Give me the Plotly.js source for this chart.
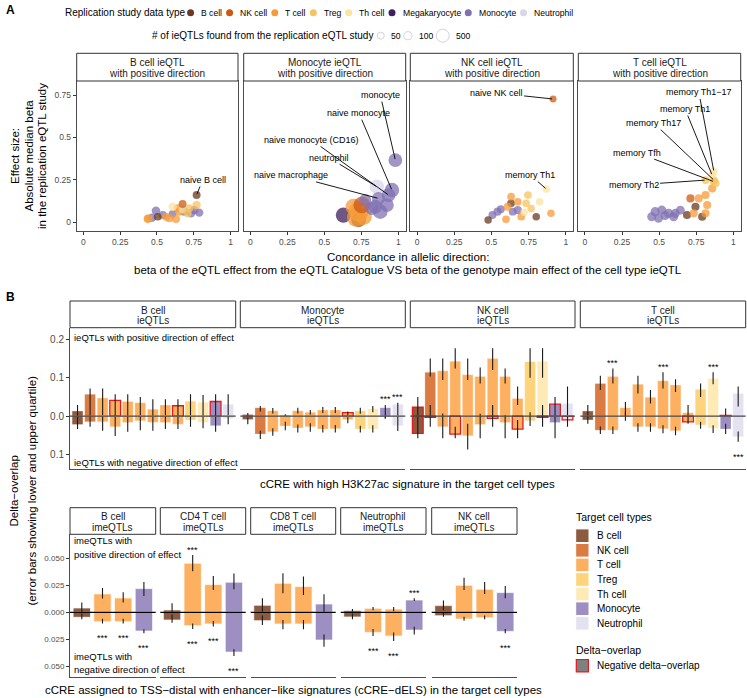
<!DOCTYPE html>
<html>
<head>
<meta charset="utf-8">
<script src="https://cdn.plot.ly/plotly-3.0.1.min.js"></script>
<style>body{margin:0;background:#fff} #chart{width:747px;height:698px}</style>
</head>
<body>
<div id="chart"></div>
<script>
/* ---------- colours ---------- */
const replTypes = ['B cell', 'NK cell', 'T cell', 'Treg', 'Th cell', 'Megakaryocyte', 'Monocyte', 'Neutrophil'];
const replColors = ['#6b3a20', '#cc5a14', '#f59b3a', '#f7c35c', '#fbe3a0', '#3f1f5c', '#8072b2', '#d8d6e8'];
const targetTypes = ['B cell', 'NK cell', 'T cell', 'Treg', 'Th cell', 'Monocyte', 'Neutrophil'];
const targetColors = ['#8c5a3f', '#d97b42', '#fdb060', '#fdd47b', '#feeab5', '#9d8fc2', '#e4e2f0'];
const sizeBreaks = [50, 100, 500];

/* ---------- A: replication of ieQTLs in eQTL Catalogue ---------- */
const aFacets = ['B cell ieQTL', 'Monocyte ieQTL', 'NK cell ieQTL', 'T cell ieQTL'];

const bcellQtlX = [0.493, 0.466, 0.539, 0.731, 0.787, 0.753, 0.685, 0.606, 0.437, 0.440, 0.584, 0.629, 0.561, 0.652, 0.640, 0.505, 0.606, 0.674, 0.719, 0.708, 0.769, 0.674, 0.769];
const bcellQtlY = [0.068, 0.027, 0.043, 0.053, 0.057, 0.072, 0.063, 0.050, 0.019, 0.024, 0.024, 0.019, 0.033, 0.063, 0.083, 0.033, 0.092, 0.077, 0.083, 0.053, 0.102, 0.108, 0.161];
const bcellQtlType = ['Monocyte', 'Monocyte', 'Monocyte', 'Monocyte', 'Monocyte', 'Monocyte', 'Monocyte', 'Monocyte', 'T cell', 'T cell', 'T cell', 'T cell', 'T cell', 'T cell', 'T cell', 'B cell', 'Th cell', 'Th cell', 'Treg', 'Treg', 'Treg', 'NK cell', 'B cell'];
const bcellQtlN = [120, 110, 100, 120, 110, 100, 100, 90, 100, 90, 100, 100, 90, 100, 100, 80, 110, 90, 90, 100, 110, 90, 90];
const bcellQtlLabels = {22: 'naive B cell'};

const monoQtlX = [0.629, 0.731, 0.719, 0.731, 0.697, 0.765, 0.753, 0.776, 0.821, 0.878, 0.844, 0.923, 0.855, 0.866, 0.934, 0.957, 0.980];
const monoQtlY = [0.043, 0.014, 0.029, 0.063, 0.092, 0.033, 0.102, 0.131, 0.082, 0.063, 0.092, 0.102, 0.210, 0.141, 0.161, 0.190, 0.367];
const monoQtlType = ['Megakaryocyte', 'B cell', 'T cell', 'T cell', 'T cell', 'T cell', 'NK cell', 'Monocyte', 'Monocyte', 'Monocyte', 'Monocyte', 'Monocyte', 'Neutrophil', 'Monocyte', 'Monocyte', 'Monocyte', 'Monocyte'];
const monoQtlN = [800, 700, 1500, 1600, 900, 1000, 1000, 400, 500, 700, 600, 600, 700, 500, 600, 700, 600];
const monoQtlLabels = {12: 'neutrophil', 13: 'naive macrophage', 14: 'naive monocyte (CD16)', 15: 'naive monocyte', 16: 'monocyte'};

const nkQtlX = [0.507, 0.541, 0.643, 0.677, 0.563, 0.478, 0.801, 0.632, 0.598, 0.632, 0.609, 0.677, 0.700, 0.900, 0.745, 0.733, 0.767, 0.824, 0.720, 0.869, 0.914];
const nkQtlY = [0.043, 0.063, 0.063, 0.072, 0.077, 0.014, 0.033, 0.112, 0.018, 0.151, 0.092, 0.121, 0.033, 0.053, 0.161, 0.112, 0.082, 0.121, 0.060, 0.196, 0.727];
const nkQtlType = ['Monocyte', 'Monocyte', 'Monocyte', 'Monocyte', 'Monocyte', 'B cell', 'B cell', 'B cell', 'T cell', 'T cell', 'T cell', 'T cell', 'T cell', 'T cell', 'Treg', 'Treg', 'Treg', 'Th cell', 'Th cell', 'Th cell', 'NK cell'];
const nkQtlN = [90, 100, 90, 100, 90, 70, 70, 80, 80, 80, 90, 80, 80, 70, 80, 80, 70, 80, 70, 70, 50];
const nkQtlLabels = {19: 'memory Th1', 20: 'naive NK cell'};

const tQtlX = [0.450, 0.473, 0.496, 0.518, 0.540, 0.564, 0.598, 0.609, 0.643, 0.688, 0.745, 0.790, 0.733, 0.813, 0.824, 0.767, 0.813, 0.858, 0.711, 0.881, 0.813, 0.869, 0.869, 0.857, 0.869];
const tQtlY = [0.033, 0.063, 0.024, 0.072, 0.040, 0.053, 0.033, 0.053, 0.072, 0.043, 0.092, 0.033, 0.053, 0.053, 0.102, 0.141, 0.161, 0.200, 0.141, 0.230, 0.249, 0.240, 0.249, 0.279, 0.300];
const tQtlType = ['Monocyte', 'Monocyte', 'Monocyte', 'Monocyte', 'Monocyte', 'Monocyte', 'Monocyte', 'Monocyte', 'Monocyte', 'B cell', 'B cell', 'B cell', 'T cell', 'T cell', 'T cell', 'T cell', 'T cell', 'T cell', 'NK cell', 'Treg', 'Treg', 'Treg', 'Treg', 'Th cell', 'Th cell'];
const tQtlN = [150, 160, 140, 160, 150, 160, 150, 150, 140, 100, 100, 100, 100, 100, 100, 100, 100, 100, 100, 90, 90, 90, 90, 80, 80];
const tQtlLabels = {20: 'memory Th2', 21: 'memory Tfh', 22: 'memory Th17', 23: 'memory Th1', 24: 'memory Th1\u221217'};

/* ---------- B (top): cCRE with high H3K27ac, ieQTLs ---------- */
// bars: [median, lower quartile, upper quartile]; negative direction given as magnitude
const h3kTargets = ['B cell', 'NK cell', 'T cell', 'T cell', 'T cell', 'T cell', 'T cell', 'T cell', 'T cell', 'Treg', 'Th cell', 'Monocyte', 'Neutrophil'];
const h3kFacets = ['B cell', 'Monocyte', 'NK cell', 'T cell'];

const h3kBcellPos = [[0.013, -0.003, 0.029], [0.057, 0.001, 0.072], [0.047, 0.002, 0.072], [0.041, -0.001, 0.057], [0.038, 0.001, 0.057], [0.035, 0.002, 0.050], [0.018, 0.001, 0.044], [0.029, 0.002, 0.044], [0.027, 0.001, 0.044], [0.039, 0.002, 0.057], [0.036, 0.001, 0.055], [0.038, -0.001, 0.057], [0.031, 0.002, 0.057]];
const h3kBcellNeg = [[0.022, 0.002, 0.034], [0.015, 0.001, 0.028], [0.015, 0.001, 0.038], [0.028, 0.002, 0.052], [0.017, 0.001, 0.041], [0.012, 0.001, 0.037], [0.016, 0.002, 0.038], [0.017, 0.001, 0.034], [0.021, 0.002, 0.034], [0.010, 0.001, 0.028], [0.017, 0.001, 0.032], [0.025, 0.002, 0.041], [0.006, 0.001, 0.021]];
const h3kBcellRedPos = [4, 9, 12], h3kBcellRedNeg = [], h3kBcellStarPos = [], h3kBcellStarNeg = [];

const h3kMonoPos = [[0.004, -0.002, 0.008], [0.022, 0.012, 0.026], [0.014, 0.007, 0.021], [0.003, -0.002, 0.005], [0.014, 0.007, 0.022], [0.010, 0.004, 0.016], [0.016, 0.008, 0.024], [0.016, 0.008, 0.024], [0.009, 0.002, 0.012], [0.014, 0.006, 0.022], [0.019, 0.010, 0.026], [0.022, -0.006, 0.029], [0.031, 0.001, 0.035]];
const h3kMonoNeg = [[0.009, 0.004, 0.021], [0.047, 0.038, 0.060], [0.041, 0.032, 0.051], [0.026, 0.015, 0.037], [0.031, 0.022, 0.043], [0.028, 0.019, 0.041], [0.034, 0.023, 0.043], [0.033, 0.023, 0.043], [0.009, 0.003, 0.019], [0.034, 0.025, 0.043], [0.034, 0.024, 0.043], [0.001, 0.000, 0.006], [0.025, 0.001, 0.039]];
const h3kMonoRedPos = [9], h3kMonoRedNeg = [], h3kMonoStarPos = [12, 13], h3kMonoStarNeg = [];

const h3kNkPos = [[0.023, 0.001, 0.050], [0.114, 0.103, 0.150], [0.118, 0.094, 0.150], [0.143, 0.124, 0.177], [0.108, 0.094, 0.150], [0.103, 0.085, 0.127], [0.150, 0.120, 0.177], [0.103, 0.085, 0.124], [0.046, 0.029, 0.077], [0.142, 0.100, 0.177], [0.143, 0.100, 0.177], [0.031, 0.001, 0.050], [0.033, 0.002, 0.077]];
const h3kNkNeg = [[0.045, 0.001, 0.058], [0.003, -0.029, 0.028], [0.028, -0.007, 0.058], [0.047, 0.028, 0.058], [0.051, 0.020, 0.087], [0.022, -0.006, 0.058], [0.006, -0.029, 0.028], [0.017, -0.002, 0.058], [0.034, 0.010, 0.058], [0.012, -0.010, 0.026], [0.003, -0.029, 0.028], [0.017, 0.001, 0.058], [0.010, 0.001, 0.028]];
const h3kNkRedPos = [1, 12], h3kNkRedNeg = [1, 2, 4, 7, 9, 11, 13], h3kNkStarPos = [], h3kNkStarNeg = [];

const h3kTPos = [[0.013, 0.001, 0.029], [0.085, 0.068, 0.105], [0.103, 0.085, 0.124], [0.022, 0.001, 0.037], [0.083, 0.059, 0.105], [0.049, 0.033, 0.068], [0.092, 0.072, 0.114], [0.081, 0.063, 0.096], [0.009, 0.001, 0.029], [0.070, 0.050, 0.085], [0.098, 0.083, 0.114], [0.002, -0.002, 0.020], [0.059, 0.025, 0.077]];
const h3kTNeg = [[0.010, 0.001, 0.020], [0.037, 0.027, 0.047], [0.037, 0.027, 0.047], [0.002, -0.010, 0.012], [0.028, 0.019, 0.041], [0.028, 0.019, 0.041], [0.033, 0.024, 0.045], [0.038, 0.028, 0.050], [0.015, 0.001, 0.020], [0.023, 0.015, 0.033], [0.032, 0.024, 0.044], [0.034, 0.020, 0.047], [0.054, 0.040, 0.067]];
const h3kTRedPos = [12], h3kTRedNeg = [9], h3kTStarPos = [3, 7, 11], h3kTStarNeg = [13];

/* ---------- B (bottom): cCRE-dELS, imeQTLs ---------- */
const elsTargets = ['B cell', 'T cell', 'T cell', 'Monocyte'];
const elsFacets = ['B cell', 'CD4 T cell', 'CD8 T cell', 'Neutrophil', 'NK cell'];

const elsBcellPos = [[0.0040, -0.0005, 0.0090], [0.0170, 0.0127, 0.0225], [0.0133, 0.0090, 0.0185], [0.0219, 0.0150, 0.0280]];
const elsBcellNeg = [[0.0046, 0.0010, 0.0065], [0.0086, 0.0059, 0.0102], [0.0086, 0.0059, 0.0102], [0.0173, 0.0157, 0.0194]];
const elsBcellStarPos = [], elsBcellStarNeg = [2, 3, 4];

const elsCd4Pos = [[0.0022, -0.0020, 0.0083], [0.0454, 0.0380, 0.0528], [0.0256, 0.0207, 0.0336], [0.0278, 0.0213, 0.0358]];
const elsCd4Neg = [[0.0071, 0.0020, 0.0096], [0.0123, 0.0102, 0.0154], [0.0108, 0.0080, 0.0130], [0.0367, 0.0340, 0.0404]];
const elsCd4StarPos = [2], elsCd4StarNeg = [2, 3, 4];

const elsCd8Pos = [[0.0065, 0.0000, 0.0130], [0.0268, 0.0176, 0.0361], [0.0238, 0.0160, 0.0330], [0.0077, 0.0000, 0.0167]];
const elsCd8Neg = [[0.0077, 0.0030, 0.0117], [0.0108, 0.0071, 0.0157], [0.0108, 0.0070, 0.0157], [0.0256, 0.0204, 0.0318]];
const elsCd8StarPos = [], elsCd8StarNeg = [];

const elsNeutPos = [[0.0018, 0.0005, 0.0030], [0.0037, 0.0020, 0.0050], [0.0030, 0.0010, 0.0050], [0.0114, 0.0105, 0.0130]];
const elsNeutNeg = [[0.0043, 0.0010, 0.0065], [0.0185, 0.0154, 0.0219], [0.0219, 0.0185, 0.0265], [0.0164, 0.0133, 0.0204]];
const elsNeutStarPos = [4], elsNeutStarNeg = [2, 3];

const elsNkPos = [[0.0062, 0.0020, 0.0110], [0.0250, 0.0207, 0.0318], [0.0213, 0.0170, 0.0280], [0.0182, 0.0130, 0.0244]];
const elsNkNeg = [[0.0031, 0.0000, 0.0040], [0.0062, 0.0040, 0.0077], [0.0050, 0.0030, 0.0065], [0.0176, 0.0155, 0.0194]];
const elsNkStarPos = [], elsNkStarNeg = [4];

/* ---------- page geometry ---------- */
const W = 747, H = 698;
const FONT = "'Liberation Sans', Arial, sans-serif";
const NARROW = "'Liberation Sans Narrow', 'Liberation Sans', Arial, sans-serif";
const fx = x => x / W;
const fy = y => 1 - y / H;

const traces = [], shapes = [], annotations = [];
const layout = {
    width: W, height: H,
    margin: { t: 0, r: 0, b: 0, l: 0 },
    paper_bgcolor: '#fff',
    plot_bgcolor: 'rgba(0,0,0,0)',
    showlegend: false,
    barmode: 'overlay',
    font: { family: FONT, color: '#000' },
    shapes: shapes,
    annotations: annotations
};

const replColor = t => replColors[replTypes.indexOf(t)];
const targetColor = t => targetColors[targetTypes.indexOf(t)];
const sizeOf = n => 2 * (2.1 + 0.196 * Math.sqrt(n));

function label(x, y, str, size, opts) {
    annotations.push(Object.assign({
        xref: 'paper', yref: 'paper', x: fx(x), y: fy(y), text: str, showarrow: false,
        font: { family: FONT, size: size, color: '#000' }, xanchor: 'center', yanchor: 'middle'
    }, opts || {}));
}

function strip(l, r, top, bottom, line1, line2, size) {
    shapes.push({ type: 'rect', xref: 'paper', yref: 'paper', x0: fx(l), x1: fx(r), y0: fy(bottom), y1: fy(top),
        line: { color: '#333', width: 1 }, fillcolor: '#fff' });
    const h = bottom - top;
    label((l + r) / 2, top + h * 0.34, line1, size, { font: { family: FONT, size: size, color: '#1a1a1a' } });
    label((l + r) / 2, top + h * 0.73, line2, size, { font: { family: FONT, size: size, color: '#1a1a1a' } });
}

let axCount = 0;
function addPanel(l, r, top, bottom, xopt, yopt) {
    axCount += 1;
    const s = axCount === 1 ? '' : String(axCount);
    layout['xaxis' + s] = Object.assign({ domain: [fx(l), fx(r)], anchor: 'y' + s, showgrid: false, zeroline: false, fixedrange: true }, xopt);
    layout['yaxis' + s] = Object.assign({ domain: [fy(bottom), fy(top)], anchor: 'x' + s, showgrid: false, zeroline: false, fixedrange: true }, yopt);
    return { x: 'x' + s, y: 'y' + s };
}

/* ---------- A: scatter panels ---------- */
const aPanelX = [[76.7, 238], [243.7, 405.7], [410.3, 573.3], [578.3, 740.7]];
const aTop = 81, aBottom = 231, aStripTop = 53.3;
const aSeries = [
    [bcellQtlX, bcellQtlY, bcellQtlType, bcellQtlN, bcellQtlLabels],
    [monoQtlX, monoQtlY, monoQtlType, monoQtlN, monoQtlLabels],
    [nkQtlX, nkQtlY, nkQtlType, nkQtlN, nkQtlLabels],
    [tQtlX, tQtlY, tQtlType, tQtlN, tQtlLabels]
];
// text offsets (pixels) of the repelled point labels
const aLabelShift = [
    { 'naive B cell': [6, -15] },
    { 'neutrophil': [-48, -29], 'naive macrophage': [-87, -23], 'naive monocyte (CD16)': [-77, -55], 'naive monocyte': [-33, -77], 'monocyte': [-15, -65] },
    { 'memory Th1': [-16, -14], 'naive NK cell': [-57, -6] },
    { 'memory Th2': [-72, 5], 'memory Tfh': [-77, -29], 'memory Th17': [-60, -57], 'memory Th1': [-27, -66], 'memory Th1\u221217': [-15, -79] }
];

aSeries.forEach(([xs, ys, types, ns, labs], i) => {
    const [l, r] = aPanelX[i];
    const first = i === 0;
    const tickfont = { family: FONT, size: 8.5, color: '#4d4d4d' };
    const ax = addPanel(l, r, aTop, aBottom, {
        range: [-0.045, 1.05], tickvals: [0, 0.25, 0.5, 0.75, 1], ticktext: ['0', '0.25', '0.5', '0.75', '1'],
        ticks: 'outside', ticklen: 3, tickcolor: '#333', tickfont: tickfont,
        showline: true, mirror: true, linecolor: '#4d4d4d', linewidth: 1
    }, {
        range: [-0.051, 0.833], tickvals: [0, 0.25, 0.5, 0.75], ticktext: ['0', '0.25', '0.5', '0.75'],
        ticks: first ? 'outside' : '', ticklen: 3, tickcolor: '#333', showticklabels: first, tickfont: tickfont,
        showline: true, mirror: true, linecolor: '#4d4d4d', linewidth: 1
    });
    traces.push({
        type: 'scatter', mode: 'markers', x: xs, y: ys, xaxis: ax.x, yaxis: ax.y, hoverinfo: 'skip',
        marker: { color: types.map(replColor), size: ns.map(sizeOf), opacity: 0.75, line: { width: 0 } }
    });
    Object.keys(labs).forEach(k => {
        const txt = labs[k];
        const sh = aLabelShift[i][txt];
        annotations.push({
            xref: ax.x, yref: ax.y, x: xs[k], y: ys[k], text: txt, showarrow: true,
            arrowhead: 0, arrowwidth: 0.9, arrowcolor: '#000', standoff: 1, ax: sh[0], ay: sh[1],
            font: { family: FONT, size: 9, color: '#000' }
        });
    });
    strip(l, r, aStripTop, aTop, aFacets[i], 'with positive direction', 10);
});

/* ---------- bar helpers ---------- */
function addBars(ax, targets, pos, neg, redPos, redNeg, starPos, starNeg, width, edge, starSize) {
    const xs = targets.map((_, i) => i + 1);
    const cols = targets.map(targetColor);
    const errStyle = { type: 'data', symmetric: false, thickness: 1.1, width: 0, color: '#1a1a1a' };
    const lineFor = red => ({
        color: xs.map(k => red.includes(k) ? '#e41a1c' : 'rgba(255,255,255,0.7)'),
        width: xs.map(k => red.includes(k) ? 1.3 : edge)
    });
    traces.push({
        type: 'bar', x: xs, y: pos.map(d => d[0]), xaxis: ax.x, yaxis: ax.y, width: width, hoverinfo: 'skip',
        marker: { color: cols, line: lineFor(redPos) },
        error_y: Object.assign({ array: pos.map(d => d[2] - d[0]), arrayminus: pos.map(d => d[0] - d[1]) }, errStyle)
    });
    traces.push({
        type: 'bar', x: xs, y: neg.map(d => -d[0]), xaxis: ax.x, yaxis: ax.y, width: width, hoverinfo: 'skip',
        marker: { color: cols, line: lineFor(redNeg) },
        error_y: Object.assign({ array: neg.map(d => d[0] - d[1]), arrayminus: neg.map(d => d[2] - d[0]) }, errStyle)
    });
    starPos.forEach(k => annotations.push({ xref: ax.x, yref: ax.y, x: k, y: pos[k - 1][2], yshift: 5.5, text: '***',
        showarrow: false, yanchor: 'middle', font: { family: FONT, size: starSize, color: '#000' } }));
    starNeg.forEach(k => annotations.push({ xref: ax.x, yref: ax.y, x: k, y: -neg[k - 1][2], yshift: -15, text: '***',
        showarrow: false, yanchor: 'middle', font: { family: FONT, size: starSize, color: '#000' } }));
}

function zeroLine(ax, color) {
    shapes.push({ type: 'line', xref: ax.x + ' domain', x0: 0, x1: 1, yref: ax.y, y0: 0, y1: 0, layer: 'above',
        line: { color: color, width: 1.1 } });
}

/* ---------- B top ---------- */
const bTopX = [[70, 235.7], [240.3, 405.3], [410.3, 575], [580.3, 745.7]];
const bTopTop = 327.7, bTopBottom = 469, bTopStrip = 301;
const h3kSeries = [
    [h3kBcellPos, h3kBcellNeg, h3kBcellRedPos, h3kBcellRedNeg, h3kBcellStarPos, h3kBcellStarNeg],
    [h3kMonoPos, h3kMonoNeg, h3kMonoRedPos, h3kMonoRedNeg, h3kMonoStarPos, h3kMonoStarNeg],
    [h3kNkPos, h3kNkNeg, h3kNkRedPos, h3kNkRedNeg, h3kNkStarPos, h3kNkStarNeg],
    [h3kTPos, h3kTNeg, h3kTRedPos, h3kTRedNeg, h3kTStarPos, h3kTStarNeg]
];
h3kSeries.forEach((s, i) => {
    const [l, r] = bTopX[i];
    const first = i === 0;
    const ax = addPanel(l, r, bTopTop, bTopBottom, {
        range: [0.4, 13.6], showticklabels: false, ticks: '', showline: true, linecolor: '#4d4d4d', linewidth: 1
    }, {
        range: [-0.138, 0.2305], tickvals: [0.2, 0.1, 0, -0.1], ticktext: ['0.2', '0.1', '0.0', '0.1'],
        ticks: first ? 'outside' : '', ticklen: 3, tickcolor: '#333', showticklabels: first,
        tickfont: { family: FONT, size: 10, color: '#4d4d4d' },
        showline: first, linecolor: '#4d4d4d', linewidth: 1
    });
    addBars(ax, h3kTargets, s[0], s[1], s[2], s[3], s[4], s[5], 0.86, 0.4, 9);
    zeroLine(ax, '#444');
    strip(l, r, bTopStrip, bTopTop, h3kFacets[i], 'ieQTLs', 10);
});

/* ---------- B bottom ---------- */
const bBotX = [[70, 155.7], [160.3, 245.7], [250.7, 335.7], [340.7, 426], [431.7, 517]];
const bBotTop = 534.3, bBotBottom = 676.7, bBotStrip = 507.7;
const elsSeries = [
    [elsBcellPos, elsBcellNeg, elsBcellStarPos, elsBcellStarNeg],
    [elsCd4Pos, elsCd4Neg, elsCd4StarPos, elsCd4StarNeg],
    [elsCd8Pos, elsCd8Neg, elsCd8StarPos, elsCd8StarNeg],
    [elsNeutPos, elsNeutNeg, elsNeutStarPos, elsNeutStarNeg],
    [elsNkPos, elsNkNeg, elsNkStarPos, elsNkStarNeg]
];
elsSeries.forEach((s, i) => {
    const [l, r] = bBotX[i];
    const first = i === 0;
    const ax = addPanel(l, r, bBotTop, bBotBottom, {
        range: [0.43, 4.57], showticklabels: false, ticks: '', showline: true, linecolor: '#4d4d4d', linewidth: 1
    }, {
        range: [-0.0594, 0.072], tickvals: [0.05, 0.025, 0, -0.025, -0.05], ticktext: ['0.050', '0.025', '0.000', '0.025', '0.050'],
        ticks: first ? 'outside' : '', ticklen: 3, tickcolor: '#333', showticklabels: first,
        tickfont: { family: FONT, size: 8, color: '#4d4d4d' },
        showline: first, linecolor: '#4d4d4d', linewidth: 1
    });
    addBars(ax, elsTargets, s[0], s[1], [], [], s[2], s[3], 0.84, 1, 9);
    zeroLine(ax, '#000');
    strip(l, r, bBotStrip, bBotTop, elsFacets[i], 'imeQTLs', 10);
});

/* ---------- titles and in-panel notes ---------- */
label(4, 10, '<b>A</b>', 12, { xanchor: 'left' });
label(4, 297, '<b>B</b>', 12, { xanchor: 'left' });

label(15, 156, 'Effect size:', 11.5, { textangle: -90 });
label(28.5, 156, 'Absolute median beta', 11.5, { textangle: -90 });
label(42, 156, 'in the replication eQTL study', 11.5, { textangle: -90 });
label(408, 256.5, 'Concordance in allelic direction:', 11.5);
label(408, 270, 'beta of the eQTL effect from the eQTL Catalogue VS beta of the genotype main effect of the cell type ieQTL', 11.5);

label(13.5, 491, 'Delta\u2212overlap', 11.5, { textangle: -90 });
label(31.5, 491, '(error bars showing lower and upper quartile)', 11.5, { textangle: -90 });

label(72, 337.7, 'ieQTLs with positive direction of effect', 9.5, { xanchor: 'left' });
label(72, 462.3, 'ieQTLs with negative direction of effect', 9.5, { xanchor: 'left' });
label(407.5, 483.5, 'cCRE with high H3K27ac signature in the target cell types', 11.5);

label(72, 540.7, 'imeQTLs with', 9.5, { xanchor: 'left' });
label(72, 554, 'positive direction of effect', 9.5, { xanchor: 'left' });
label(72, 656.7, 'imeQTLs with', 9.5, { xanchor: 'left' });
label(72, 669, 'negative direction of effect', 9.5, { xanchor: 'left' });
label(293, 690, 'cCRE assigned to TSS\u2212distal with enhancer\u2212like signatures (cCRE\u2212dELS) in the target cell types', 11.5);

/* ---------- legends ---------- */
const measureCtx = document.createElement('canvas').getContext('2d');
function textW(str, size, family) {
    measureCtx.font = size + 'px ' + family;
    return measureCtx.measureText(str).width;
}
function dot(cx, cy, r, fill, lineColor) {
    shapes.push({ type: 'circle', xref: 'paper', yref: 'paper', x0: fx(cx - r), x1: fx(cx + r), y0: fy(cy + r), y1: fy(cy - r),
        fillcolor: fill, line: { color: lineColor || fill, width: lineColor ? 0.8 : 0 } });
}

// colour legend of panel A
(function () {
    const y = 12.7, tSize = 10, lSize = 8.6;
    const title = 'Replication study data type';
    label(63, y, title, tSize, { xanchor: 'left', font: { family: NARROW, size: tSize, color: '#000' } });
    let cur = 63 + textW(title, tSize, NARROW) + 4;
    replTypes.forEach((t, i) => {
        const cx = cur + 3.5;
        dot(cx, y, 3.5, replColors[i]);
        label(cx + 8.5, y, t, lSize, { xanchor: 'left', font: { family: NARROW, size: lSize, color: '#000' } });
        cur = cx + 8.5 + textW(t, lSize, NARROW) + 6;
    });
})();

// size legend of panel A
(function () {
    const y = 35.7, tSize = 10, lSize = 8.6;
    const title = '# of ieQTLs found from the replication eQTL study';
    label(150, y, title, tSize, { xanchor: 'left', font: { family: NARROW, size: tSize, color: '#000' } });
    let cur = 150 + textW(title, tSize, NARROW) + 5.5;
    sizeBreaks.forEach(n => {
        const r = sizeOf(n) / 2;
        const cx = cur + r;
        dot(cx, y, r, '#fff', '#c8c8c8');
        label(cx + r + 5, y, String(n), lSize, { xanchor: 'left', font: { family: NARROW, size: lSize, color: '#000' } });
        cur = cx + r + 5 + textW(String(n), lSize, NARROW) + 5;
    });
})();

// target cell type legend of panel B
(function () {
    const x0 = 575.7, x1 = 589, step = 14.6, firstY = 535.7;
    label(574, 517.3, 'Target cell types', 10.5, { xanchor: 'left' });
    targetTypes.forEach((t, i) => {
        const cy = firstY + i * step;
        shapes.push({ type: 'rect', xref: 'paper', yref: 'paper', x0: fx(x0), x1: fx(x1), y0: fy(cy + 6.8), y1: fy(cy - 6.8),
            fillcolor: targetColors[i], line: { color: '#fff', width: 1 } });
        label(595, cy, t, 10, { xanchor: 'left' });
    });
    label(574, 650, 'Delta\u2212overlap', 10.5, { xanchor: 'left' });
    shapes.push({ type: 'rect', xref: 'paper', yref: 'paper', x0: fx(x0 + 0.6), x1: fx(x1 - 0.6), y0: fy(665.7 + 6.2), y1: fy(665.7 - 6.2),
        fillcolor: '#808080', line: { color: '#e41a1c', width: 1.2 } });
    label(595, 665.7, 'Negative delta\u2212overlap', 10, { xanchor: 'left' });
})();

Plotly.newPlot('chart', traces, layout, { staticPlot: true, displayModeBar: false });
</script>
</body>
</html>
